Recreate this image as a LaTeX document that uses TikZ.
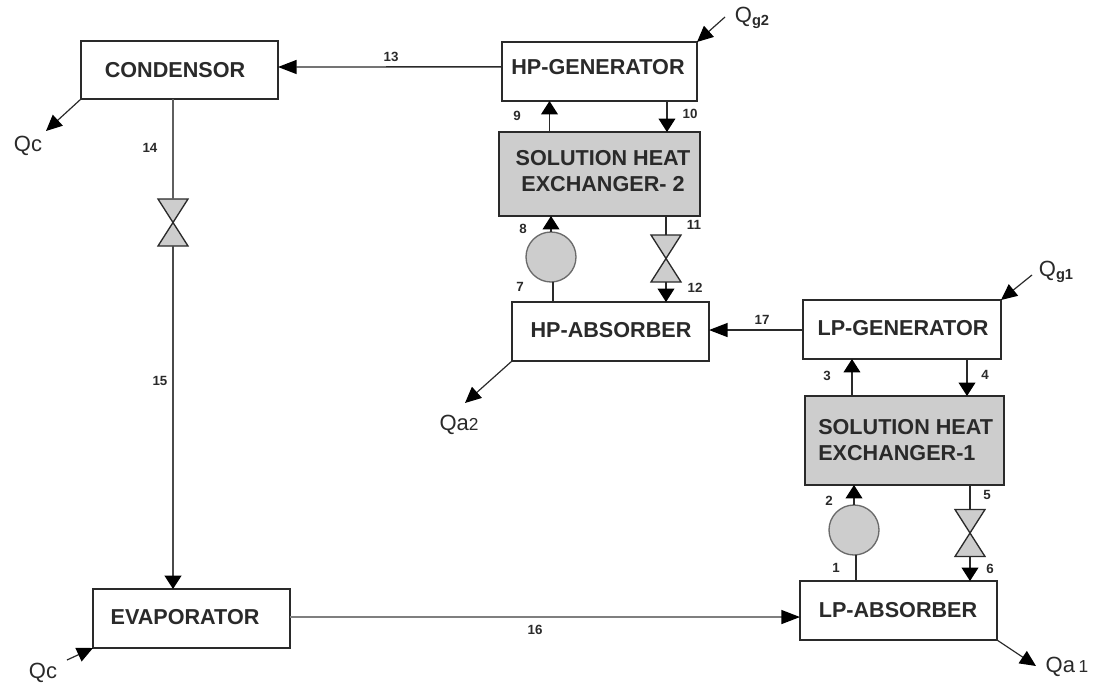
\documentclass[tikz,border=0pt]{standalone}
\usepackage{fontspec}
\setmainfont{Liberation Sans}
\usetikzlibrary{arrows.meta,calc}
\definecolor{ink}{HTML}{2A2A2A}
\definecolor{shade}{HTML}{CDCDCD}
\tikzset{
  unit/.style={draw=ink,line width=1.2pt,fill=white,rectangle,inner sep=0pt,outer sep=0pt},
  shx/.style={unit,fill=shade},
  pumpnode/.style={draw=ink!70,line width=1pt,fill=shade,circle,minimum size=37.5pt,inner sep=0pt,outer sep=0pt},
  valvenode/.style={rectangle,minimum width=22.5pt,minimum height=35.25pt,inner sep=0pt,outer sep=0pt},
  valveshape/.style={draw=ink,line width=1pt,fill=shade,line join=miter},
  unittext/.style={font=\fontsize{16.2}{19}\selectfont\bfseries,text=ink,inner sep=0pt,align=center},
  lefttext/.style={unittext,align=left},
  num/.style={font=\fontsize{10}{12}\selectfont\bfseries,text=ink,inner sep=0pt},
  heat/.style={font=\fontsize{16.5}{20}\selectfont,text=ink,inner sep=0pt},
  pipe/.style={draw=ink,line width=1.1pt},
  flowv/.style={pipe,-{Triangle[length=10pt,width=12.5pt,color=black]}},
  flowh/.style={pipe,-{Triangle[length=14pt,width=10.5pt,color=black]}},
  heatflow/.style={draw=ink,line width=0.9pt,-{Triangle[length=12pt,width=11pt,color=black]}},
}
\begin{document}
\begin{tikzpicture}[x=0.75pt,y=-0.75pt]
\useasboundingbox (0,0) rectangle (1093,685);
% units
\node[unit,minimum width=147.75pt,minimum height=43.5pt] (cond) at (179.5,70) {};
\node[unit,minimum width=146.25pt,minimum height=44.25pt] (hpgen) at (599.5,71.5) {};
\node[shx,minimum width=150.75pt,minimum height=63pt] (shxb) at (599.5,174) {};
\node[unit,minimum width=147.75pt,minimum height=44.25pt] (hpabs) at (610.5,331.5) {};
\node[unit,minimum width=148.5pt,minimum height=44.25pt] (lpgen) at (902,329.5) {};
\node[shx,minimum width=149.25pt,minimum height=66.75pt] (shxa) at (904.5,440.5) {};
\node[unit,minimum width=147.75pt,minimum height=44.25pt] (lpabs) at (898.5,610.5) {};
\node[unit,minimum width=147.75pt,minimum height=44.25pt] (evap) at (191.5,618.5) {};
% pumps
\node[pumpnode] (pumpb) at (551,257) {};
\node[pumpnode] (pumpa) at (854,530) {};
% valves
\node[valvenode] (valvec) at (173,222.5) {};
\node[valvenode] (valveb) at (666,258.5) {};
\node[valvenode] (valvea) at (970,533) {};
\foreach \v in {valvec,valveb,valvea}
  \draw[valveshape] (\v.north west) -- (\v.north east) -- (\v.south west) -- (\v.south east) -- cycle;
% unit texts
\node[unittext] (condtext) at (175,70) {CONDENSOR};
\node[unittext] (hpgentext) at (598,67) {HP-GENERATOR};
\node[unittext] (shxbtext) at (603,171) {SOLUTION HEAT\\EXCHANGER- 2};
\node[unittext] (hpabstext) at (611,330) {HP-ABSORBER};
\node[unittext] (lpgentext) at (903,328) {LP-GENERATOR};
\node[lefttext,anchor=west] (shxatext) at (818,440) {SOLUTION HEAT\\EXCHANGER-1};
\node[unittext] (lpabstext) at (898,610) {LP-ABSORBER};
\node[unittext] (evaptext) at (185,617) {EVAPORATOR};
% main connectors
\draw[flowh] ([yshift=3.4pt]hpgen.west) -- ([yshift=2.25pt]cond.east);
\draw[pipe,draw=ink!75,line width=1.4pt] (valvec.north |- cond.south) -- (valvec.north);
\draw[flowv,draw=ink!85,line width=1.4pt] (valvec.south) -- (valvec.south |- evap.north);
\draw[flowh,draw=ink!60] ([yshift=1.1pt]evap.east) -- ([yshift=-4.9pt]lpabs.west);
\draw[flowh] ([yshift=-0.4pt]lpgen.west) -- ([yshift=1.1pt]hpabs.east);
% high pressure stage
\draw[flowv] ([xshift=-37.5pt]shxb.north) -- ([xshift=-37.5pt]shxb.north |- hpgen.south);
\draw[flowv] ([xshift=50.6pt]hpgen.south) -- ([xshift=50.6pt]hpgen.south |- shxb.north);
\draw[flowv] (pumpb.north) -- (pumpb.north |- shxb.south);
\draw[pipe] (valveb.north |- shxb.south) -- (valveb.north);
\draw[flowv] (valveb.south) -- (valveb.south |- hpabs.north);
\draw[pipe] ([xshift=1.5pt]pumpb.south) -- ([xshift=1.5pt]pumpb.south |- hpabs.north);
% low pressure stage
\draw[flowv] ([xshift=-39.4pt]shxa.north) -- ([xshift=-39.4pt]shxa.north |- lpgen.south);
\draw[flowv] ([xshift=48.75pt]lpgen.south) -- ([xshift=48.75pt]lpgen.south |- shxa.north);
\draw[flowv] (pumpa.north) -- (pumpa.north |- shxa.south);
\draw[pipe] (valvea.north |- shxa.south) -- (valvea.north);
\draw[flowv] (valvea.south) -- (valvea.south |- lpabs.north);
\draw[pipe] ([xshift=1.5pt]pumpa.south) -- ([xshift=1.5pt]pumpa.south |- lpabs.north);
% heat flows
\coordinate (qcout) at (46,131);
\coordinate (qcin) at (67,660);
\coordinate (qgb) at (725,17);
\coordinate (qga) at (1032,275);
\coordinate (qab) at (465,403);
\coordinate (qaa) at (1036,666);
\draw[heatflow] (cond.south west) -- (qcout);
\draw[heatflow] (qcin) -- (evap.south west);
\draw[heatflow] (qgb) -- (hpgen.north east);
\draw[heatflow] (qga) -- (lpgen.north east);
\draw[heatflow] (hpabs.south west) -- (qab);
\draw[heatflow] (lpabs.south east) -- (qaa);
% heat labels
\node[heat] (lqcout) at (28,146) {Qc};
\node[heat] (lqcin) at (43,673) {Qc};
\node[heat] (lqab) at (459,425) {Qa{\fontsize{13}{15}\selectfont 2}};
\node[heat] (lqaa) at (1067,667) {Qa\,{\fontsize{13}{15}\selectfont 1}};
\node[heat] (lqgb) at (752,18) {Q{\fontsize{11}{13}\selectfont\raisebox{-2pt}{\bfseries g2}}};
\node[heat] (lqga) at (1056,272) {Q{\fontsize{11}{13}\selectfont\raisebox{-2pt}{\bfseries g1}}};
% stream numbers
\node[num] (n1) at (836,568) {1};
\node[num] (n2) at (829,501) {2};
\node[num] (n3) at (827,376) {3};
\node[num] (n4) at (985,375) {4};
\node[num] (n5) at (987,495) {5};
\node[num] (n6) at (990,569) {6};
\node[num] (n7) at (520,287) {7};
\node[num] (n8) at (523,229) {8};
\node[num] (n9) at (517,116) {9};
\node[num] (n10) at (690,114) {10};
\node[num] (n11) at (694,225) {11};
\node[num] (n12) at (695,288) {12};
\node[num] (n13) at (391,57) {13};
\node[num] (n14) at (150,148) {14};
\node[num] (n15) at (160,381) {15};
\node[num] (n16) at (535,630) {16};
\node[num] (n17) at (762,320) {17};
\end{tikzpicture}
\end{document}
